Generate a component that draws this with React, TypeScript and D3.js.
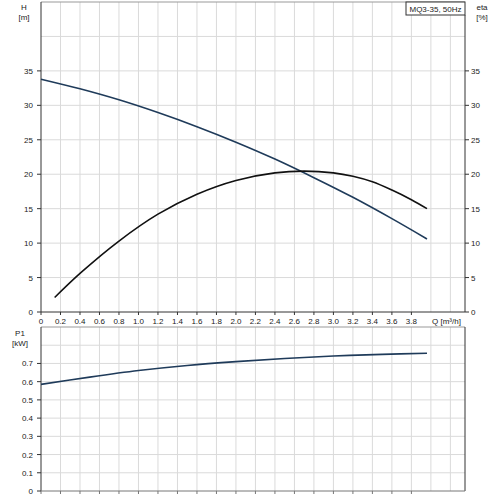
import * as d3 from "d3"

// Q axis values [m³/h]
const qTicks = [0, 0.2, 0.4, 0.6, 0.8, 1.0, 1.2, 1.4, 1.6, 1.8, 2.0, 2.2, 2.4, 2.6, 2.8, 3.0, 3.2, 3.4, 3.6, 3.8]
const qGrid = [0.2, 0.4, 0.6, 0.8, 1.0, 1.2, 1.4, 1.6, 1.8, 2.0, 2.2, 2.4, 2.6, 2.8, 3.0, 3.2, 3.4, 3.6, 3.8, 4.0, 4.2]

// head curve
const qHead = [0, 0.4, 0.8, 1.2, 1.6, 2.0, 2.4, 2.8, 3.2, 3.6, 3.96]
const headValues = [33.8, 32.4, 30.8, 28.95, 26.9, 24.65, 22.2, 19.5, 16.65, 13.55, 10.6]

// efficiency curve
const qEta = [0.14, 0.4, 0.8, 1.2, 1.6, 2.0, 2.4, 2.7, 3.0, 3.2, 3.4, 3.6, 3.8, 3.96]
const etaValues = [2.1, 5.6, 10.3, 14.2, 17.1, 19.1, 20.2, 20.45, 20.2, 19.7, 18.9, 17.7, 16.3, 15.0]

// power curve
const qPower = [0, 0.5, 1.0, 1.5, 2.0, 2.5, 3.0, 3.5, 3.96]
const powerValues = [0.585, 0.625, 0.661, 0.689, 0.71, 0.727, 0.741, 0.75, 0.756]

const topTicks = [0, 5, 10, 15, 20, 25, 30, 35]
const topGrid = [5, 10, 15, 20, 25, 30, 35, 40]
const bottomTicks = [0, 0.1, 0.2, 0.3, 0.4, 0.5, 0.6, 0.7]
const bottomGrid = [0.1, 0.2, 0.3, 0.4, 0.5, 0.6, 0.7, 0.8]

const font = "'Liberation Sans', Arial, sans-serif"
const gridColor = "#dadada"
const axisColor = "#333"
const blue = "#1f3b5a"

export default function App() {
  const x = d3.scaleLinear().domain([0, 4.35]).range([41, 465])
  const yTop = d3.scaleLinear().domain([0, 45]).range([312, 2])
  const yBot = d3.scaleLinear().domain([0, 0.9]).range([491, 327])

  const headLine = d3
    .line<number>()
    .x((_, i) => x(qHead[i]))
    .y((d) => yTop(d))
    .curve(d3.curveCatmullRom.alpha(0.5))
  const etaLine = d3
    .line<number>()
    .x((_, i) => x(qEta[i]))
    .y((d) => yTop(d))
    .curve(d3.curveCatmullRom.alpha(0.5))
  const powerLine = d3
    .line<number>()
    .x((_, i) => x(qPower[i]))
    .y((d) => yBot(d))
    .curve(d3.curveCatmullRom.alpha(0.5))

  const fmt = d3.format(".1f")

  return (
    <svg
      width={500}
      height={500}
      style={{ position: "absolute", left: 0, top: 0, background: "#fff" }}
      fontFamily={font}
      fontSize={8}
      fill="#222"
    >
      <rect x={0} y={0} width={500} height={500} fill="#fff" />

      {/* grids */}
      {qGrid.map((q) => (
        <g key={"vg" + q}>
          <line x1={x(q)} x2={x(q)} y1={yTop(45)} y2={yTop(0)} stroke={gridColor} />
          <line x1={x(q)} x2={x(q)} y1={yBot(0.9)} y2={yBot(0)} stroke={gridColor} />
        </g>
      ))}
      {topGrid.map((v) => (
        <line key={"tg" + v} x1={x(0)} x2={x(4.35)} y1={yTop(v)} y2={yTop(v)} stroke={gridColor} />
      ))}
      {bottomGrid.map((v) => (
        <line key={"bg" + v} x1={x(0)} x2={x(4.35)} y1={yBot(v)} y2={yBot(v)} stroke={gridColor} />
      ))}

      {/* top plot frame */}
      <line x1={x(0)} x2={x(4.35)} y1={yTop(45)} y2={yTop(45)} stroke="#999" />
      <line x1={x(0)} x2={x(0)} y1={yTop(45)} y2={yTop(0)} stroke={axisColor} />
      <line x1={x(4.35)} x2={x(4.35)} y1={15} y2={yTop(0)} stroke={axisColor} />
      <line x1={x(0)} x2={x(4.35)} y1={yTop(0)} y2={yTop(0)} stroke={axisColor} />

      {/* bottom plot frame */}
      <line x1={x(0)} x2={x(4.35)} y1={yBot(0.9)} y2={yBot(0.9)} stroke="#999" />
      <line x1={x(0)} x2={x(0)} y1={yBot(0.9)} y2={yBot(0)} stroke={axisColor} />
      <line x1={x(4.35)} x2={x(4.35)} y1={yBot(0.9)} y2={yBot(0)} stroke={axisColor} />
      <line x1={x(0)} x2={x(4.35)} y1={yBot(0)} y2={yBot(0)} stroke="#777" />

      {/* top left/right ticks */}
      {topTicks.map((v) => (
        <g key={"tt" + v}>
          <line x1={x(0) - 4} x2={x(0)} y1={yTop(v)} y2={yTop(v)} stroke={axisColor} />
          <text x={x(0) - 8} y={yTop(v) + 3} textAnchor="end">{v}</text>
          <line x1={x(4.35)} x2={x(4.35) + 4} y1={yTop(v)} y2={yTop(v)} stroke={axisColor} />
          <text x={x(4.35) + 6} y={yTop(v) + 3}>{v}</text>
        </g>
      ))}

      {/* Q ticks */}
      {qTicks.map((q) => (
        <g key={"qt" + q}>
          <line x1={x(q)} x2={x(q)} y1={yTop(0)} y2={yTop(0) + 3} stroke={axisColor} />
          <text x={x(q)} y={324} textAnchor="middle">{q === 0 ? "0" : fmt(q)}</text>
          <line x1={x(q)} x2={x(q)} y1={yBot(0)} y2={yBot(0) + 3} stroke="#777" />
        </g>
      ))}
      <text x={432} y={324}>Q [m³/h]</text>

      {/* bottom ticks */}
      {bottomTicks.map((v) => (
        <g key={"bt" + v}>
          <line x1={x(0) - 4} x2={x(0)} y1={yBot(v)} y2={yBot(v)} stroke={axisColor} />
          <text x={x(0) - 8} y={yBot(v) + 3} textAnchor="end">{v === 0 ? "0" : fmt(v)}</text>
        </g>
      ))}

      {/* axis titles */}
      <text x={24} y={10} textAnchor="middle">H</text>
      <text x={24} y={20} textAnchor="middle">[m]</text>
      <text x={482} y={10} textAnchor="middle">eta</text>
      <text x={482} y={20} textAnchor="middle">[%]</text>
      <text x={20} y={336} textAnchor="middle">P1</text>
      <text x={20} y={346} textAnchor="middle">[kW]</text>

      {/* title box */}
      <rect x={406} y={2} width={59} height={13} fill="#fff" stroke={axisColor} />
      <text x={435.5} y={11.5} textAnchor="middle">MQ3-35, 50Hz</text>

      {/* curves */}
      <path d={headLine(headValues) ?? ""} fill="none" stroke={blue} strokeWidth={1.6} />
      <path d={etaLine(etaValues) ?? ""} fill="none" stroke="#111" strokeWidth={1.6} />
      <path d={powerLine(powerValues) ?? ""} fill="none" stroke={blue} strokeWidth={1.6} />
    </svg>
  )
}
